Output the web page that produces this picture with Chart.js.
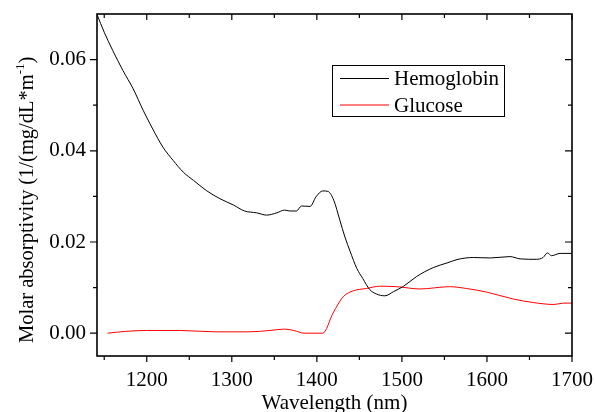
<!DOCTYPE html>
<html>
<head>
<meta charset="utf-8">
<script src="https://cdn.jsdelivr.net/npm/chart.js@4/dist/chart.umd.min.js"></script>
<style>
  html, body { margin: 0; padding: 0; background: #fff; }
</style>
</head>
<body>
<canvas id="grafico" width="595" height="412"></canvas>
<script>
// Hemoglobina
const hbLongitud = [1141.5, 1150, 1160, 1172, 1184, 1196, 1207, 1219, 1231, 1243, 1255, 1270, 1286, 1302,
  1315, 1329, 1341, 1353, 1362, 1368, 1376, 1382, 1392, 1399, 1407, 1413, 1420, 1427, 1433, 1439,
  1447, 1454, 1462, 1470, 1480, 1490, 1502, 1517, 1537, 1553, 1566, 1584, 1604, 1627, 1639, 1658,
  1666, 1671, 1676, 1686, 1700];
const hbValores = [0.0699, 0.0660, 0.0620, 0.0576, 0.0536, 0.0488, 0.0448, 0.0408, 0.0379, 0.0353, 0.0335, 0.0313, 0.0295, 0.0281,
  0.0268, 0.0264, 0.0259, 0.0264, 0.0270, 0.0268, 0.0268, 0.0279, 0.0278, 0.0299, 0.0312, 0.0311, 0.0291, 0.0248, 0.0211, 0.0180,
  0.0142, 0.0120, 0.0096, 0.0086, 0.0082, 0.0091, 0.0103, 0.0124, 0.0144, 0.0154, 0.0162, 0.0166, 0.0165, 0.0168, 0.0163, 0.0162,
  0.0166, 0.0176, 0.0170, 0.0175, 0.0175];

// Glucosa
const gluLongitud = [1154, 1175, 1200, 1240, 1280, 1320, 1345, 1362, 1373, 1385, 1407, 1419, 1431, 1443,
  1458, 1474, 1494, 1521, 1556, 1576, 1600, 1631, 1655, 1679, 1690, 1700];
const gluValores = [0.0000, 0.0004, 0.0006, 0.0006, 0.0003, 0.0003, 0.0006, 0.0009, 0.0006, 0.0000, 0.0000, 0.0044, 0.0080, 0.0093,
  0.0098, 0.0103, 0.0102, 0.0097, 0.0102, 0.0098, 0.0090, 0.0075, 0.0067, 0.0063, 0.0066, 0.0066];

const etiquetasX = [1200, 1300, 1400, 1500, 1600, 1700];
const menoresX = [1150, 1250, 1350, 1450, 1550, 1650];
const etiquetasY = [0.00, 0.02, 0.04, 0.06];
const menoresY = [0.01, 0.03, 0.05];

const fuente = "'Liberation Serif', 'Times New Roman', serif";

function puntos(xs, ys) {
  return xs.map((x, i) => ({ x: x, y: ys[i] }));
}

// marco y marcas de los cuatro ejes
const marco = {
  id: "marco",
  afterDraw(chart) {
    const ctx = chart.ctx;
    const a = chart.chartArea;
    const ejeX = chart.scales.x;
    const ejeY = chart.scales.y;
    ctx.save();
    ctx.strokeStyle = "#000";
    ctx.lineWidth = 1.6;
    ctx.strokeRect(a.left, a.top, a.right - a.left, a.bottom - a.top);
    ctx.lineWidth = 1.2;
    const marcaX = (v, largo) => {
      const px = ejeX.getPixelForValue(v);
      ctx.beginPath();
      ctx.moveTo(px, a.bottom); ctx.lineTo(px, a.bottom + largo);
      ctx.moveTo(px, a.top); ctx.lineTo(px, a.top + largo);
      ctx.stroke();
    };
    const marcaY = (v, largo) => {
      const py = ejeY.getPixelForValue(v);
      ctx.beginPath();
      ctx.moveTo(a.left, py); ctx.lineTo(a.left - largo, py);
      ctx.moveTo(a.right, py); ctx.lineTo(a.right - largo, py);
      ctx.stroke();
    };
    etiquetasX.forEach((v) => marcaX(v, 6));
    menoresX.forEach((v) => marcaX(v, 4));
    etiquetasY.forEach((v) => marcaY(v, 7));
    menoresY.forEach((v) => marcaY(v, 4));
    ctx.restore();
  }
};

// titulo del eje Y con el superindice
const tituloY = {
  id: "tituloY",
  afterDraw(chart) {
    const ctx = chart.ctx;
    ctx.save();
    ctx.translate(33, 343);
    ctx.rotate(-Math.PI / 2);
    ctx.fillStyle = "#000";
    ctx.textBaseline = "alphabetic";
    ctx.textAlign = "left";
    ctx.font = "20.5px " + fuente;
    const texto = "Molar absorptivity (1/(mg/dL*m";
    ctx.fillText(texto, 0, 0);
    let x = ctx.measureText(texto).width;
    ctx.font = "13px " + fuente;
    ctx.fillText("-1", x, -9);
    x += ctx.measureText("-1").width;
    ctx.font = "20.5px " + fuente;
    ctx.fillText(")", x, 0);
    ctx.restore();
  }
};

// leyenda con recuadro dentro del area
const leyenda = {
  id: "leyenda",
  afterDraw(chart) {
    const ctx = chart.ctx;
    ctx.save();
    ctx.strokeStyle = "#000";
    ctx.lineWidth = 1;
    ctx.strokeRect(332.5, 65.5, 172, 51);
    ctx.font = "21px " + fuente;
    ctx.textBaseline = "middle";
    chart.data.datasets.forEach((ds, i) => {
      const y = 78.5 + i * 26.5;
      ctx.strokeStyle = ds.borderColor;
      ctx.beginPath();
      ctx.moveTo(340, y); ctx.lineTo(389, y);
      ctx.stroke();
      ctx.fillStyle = "#000";
      ctx.fillText(ds.label, 394, y + 1);
    });
    ctx.restore();
  }
};

const config = {
  type: "line",
  data: {
    datasets: [
      {
        label: "Hemoglobin",
        data: puntos(hbLongitud, hbValores),
        borderColor: "#000000",
        borderWidth: 1,
        pointRadius: 0,
        cubicInterpolationMode: "monotone"
      },
      {
        label: "Glucose",
        data: puntos(gluLongitud, gluValores),
        borderColor: "#ff0000",
        borderWidth: 1,
        pointRadius: 0,
        cubicInterpolationMode: "monotone"
      }
    ]
  },
  options: {
    responsive: false,
    animation: false,
    layout: { padding: { top: 14, right: 23, left: 0, bottom: 0 } },
    plugins: { legend: { display: false }, tooltip: { enabled: false } },
    scales: {
      x: {
        type: "linear",
        min: 1141.5,
        max: 1700,
        grid: { display: false, drawTicks: false },
        border: { display: false },
        afterBuildTicks: (eje) => { eje.ticks = etiquetasX.map((v) => ({ value: v })); },
        afterFit: (eje) => {
          eje.height = 56;
          eje.paddingLeft = 0;
          eje.paddingRight = 0;
        },
        ticks: {
          color: "#000",
          font: { family: fuente, size: 21 },
          padding: 12,
          maxRotation: 0,
          callback: (v) => String(v)
        },
        title: {
          display: true,
          text: "Wavelength (nm)",
          color: "#000",
          font: { family: fuente, size: 21 },
          padding: { top: 0, bottom: -4 }
        }
      },
      y: {
        min: -0.005,
        max: 0.07,
        grid: { display: false, drawTicks: false },
        border: { display: false },
        afterBuildTicks: (eje) => { eje.ticks = etiquetasY.map((v) => ({ value: v })); },
        afterFit: (eje) => {
          eje.width = 97;
          eje.paddingTop = 0;
          eje.paddingBottom = 0;
        },
        ticks: {
          color: "#000",
          font: { family: fuente, size: 21 },
          padding: 11,
          callback: (v) => Number(v).toFixed(2)
        }
      }
    }
  },
  plugins: [marco, tituloY, leyenda]
};

new Chart(document.getElementById("grafico"), config);
</script>
</body>
</html>
